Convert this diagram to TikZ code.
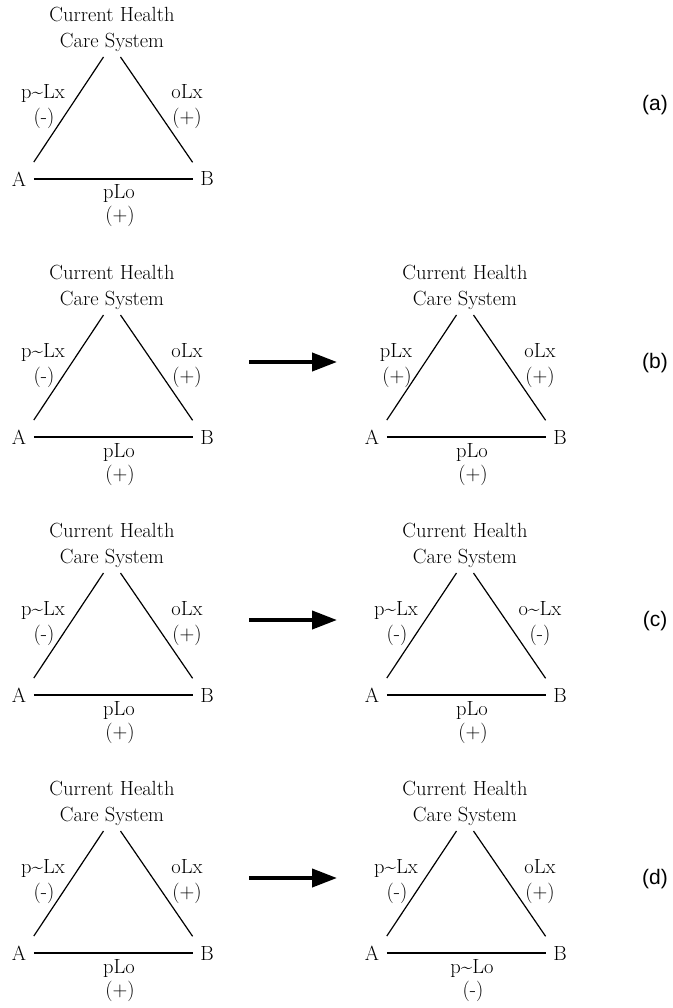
\documentclass[tikz,border=0pt]{standalone}
\usepackage{fontspec}
\newfontfamily\tagfont{Liberation Sans}
\usetikzlibrary{arrows.meta}
\tikzset{
  x=1pt, y=-1pt,
  apex/.style={font=\fontsize{20.5}{26}\selectfont, align=center, inner sep=5pt},
  vertex/.style={font=\fontsize{20.5}{23}\selectfont, inner xsep=7.5pt, inner ysep=9.5pt},
  lbl/.style={font=\fontsize{20.5}{23}\selectfont, inner sep=0pt, anchor=base},
  edge/.style={line width=1.2pt},
  bigarrow/.style={line width=4pt, -{Triangle[length=25pt,width=18pt]}},
  tag/.style={font=\tagfont\fontsize{21}{25}\selectfont}
}
% One triad: #1 shift, #2 name prefix, #3/#4 left side label and sign,
% #5/#6 right side label and sign, #7/#8 base label and sign
\newcommand\triad[8]{%
  \begin{scope}[shift={#1}]
    \node[apex, anchor=south] (#2T) at (112,57) {Current Health\\Care System};
    \node[vertex] (#2A) at (19,179) {A};
    \node[vertex] (#2B) at (207,179) {B};
    \draw[edge] ([xshift=-8.5pt]#2T.south) -- (#2A.north east);
    \draw[edge] ([xshift=8.5pt]#2T.south) -- (#2B.north west);
    \draw[edge] (#2A) -- (#2B);
    \node[lbl] (#2l1) at (43,99) {#3};
    \node[lbl] (#2l2) at (44,124) {#4};
    \node[lbl] (#2r1) at (187,99) {#5};
    \node[lbl] (#2r2) at (187,124) {#6};
    \node[lbl] (#2b1) at (119,199) {#7};
    \node[lbl] (#2b2) at (120,222) {#8};
  \end{scope}}
\newcommand\nt{\textasciitilde}
\begin{document}
\begin{tikzpicture}
  \useasboundingbox (0,0) rectangle (672,1008);
  % (a)
  \triad{(0,0)}{a}{p\nt Lx}{(-)}{oLx}{(+)}{pLo}{(+)}
  \node[tag] (taga) at (655,105) {(a)};
  % (b)
  \triad{(0,258)}{bl}{p\nt Lx}{(-)}{oLx}{(+)}{pLo}{(+)}
  \triad{(353,258)}{br}{pLx}{(+)}{oLx}{(+)}{pLo}{(+)}
  \coordinate (bs) at (249,362);
  \coordinate (be) at (337,362);
  \draw[bigarrow] (bs) -- (be);
  \node[tag] (tagb) at (655,363) {(b)};
  % (c)
  \triad{(0,516)}{cl}{p\nt Lx}{(-)}{oLx}{(+)}{pLo}{(+)}
  \triad{(353,516)}{cr}{p\nt Lx}{(-)}{o\nt Lx}{(-)}{pLo}{(+)}
  \coordinate (cs) at (249,620);
  \coordinate (ce) at (337,620);
  \draw[bigarrow] (cs) -- (ce);
  \node[tag] (tagc) at (655,621) {(c)};
  % (d)
  \triad{(0,774)}{dl}{p\nt Lx}{(-)}{oLx}{(+)}{pLo}{(+)}
  \triad{(353,774)}{dr}{p\nt Lx}{(-)}{oLx}{(+)}{p\nt Lo}{(-)}
  \coordinate (ds) at (249,878);
  \coordinate (de) at (337,878);
  \draw[bigarrow] (ds) -- (de);
  \node[tag] (tagd) at (655,879) {(d)};
\end{tikzpicture}
\end{document}
